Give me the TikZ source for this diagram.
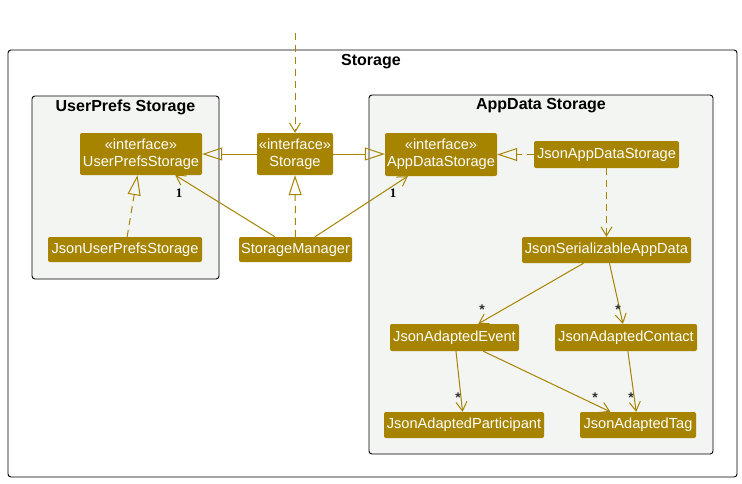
\documentclass[tikz,border=0pt]{standalone}
\usepackage{fontspec}
\setmainfont{Liberation Sans}
\newfontfamily\serfont{Liberation Serif}
\usetikzlibrary{arrows.meta}
\definecolor{gold}{RGB}{166,132,0}
\definecolor{pkgbg}{RGB}{243,245,243}
\definecolor{multgray}{RGB}{50,50,50}
\tikzset{
  cls/.style={fill=gold, text=white, rounded corners=2pt, inner sep=0pt, align=center,
    font=\fontsize{14.6}{17}\selectfont},
  pkg/.style={draw=black, line width=0.9pt, rounded corners=3pt},
  pkgtitle/.style={font=\bfseries\fontsize{16}{18}\selectfont},
  conn/.style={draw=gold, line width=1pt},
  dashconn/.style={conn, dash pattern=on 7pt off 5pt},
  realize/.style={-{Triangle[open, length=20pt, width=13pt, line width=1pt]}},
  assoc/.style={-{Straight Barb[length=9pt, width=11pt, line width=1pt]}},
  one/.style={font=\serfont\bfseries\fontsize{13}{14}\selectfont},
  many/.style={font=\bfseries\fontsize{14}{14}\selectfont, text=multgray},
}
\begin{document}
\begin{tikzpicture}[x=1pt, y=-1pt]
\useasboundingbox (0,0) rectangle (742,483);
\fill[white] (0,0) rectangle (742,483);
% packages
\draw[pkg, fill=white] (8,50) rectangle (737,477);
\node[pkgtitle] (tstorage) at (371,62) {Storage};
\draw[pkg, fill=pkgbg] (32,96) rectangle (219,279);
\node[pkgtitle] (tups) at (125.5,107) {UserPrefs Storage};
\draw[pkg, fill=pkgbg] (369,95) rectangle (713,454);
\node[pkgtitle] (tads) at (541,106) {AppData Storage};
% classes
\node[cls, minimum width=122pt, minimum height=42pt] (ups) at (141,154) {«interface»\\UserPrefsStorage};
\node[cls, minimum width=76pt, minimum height=42pt] (st) at (295,154) {«interface»\\Storage};
\node[cls, minimum width=112pt, minimum height=43pt] (ads) at (441,154.5) {«interface»\\AppDataStorage};
\node[cls, minimum width=145pt, minimum height=27pt] (jads) at (606.5,154.5) {JsonAppDataStorage};
\node[cls, minimum width=169pt, minimum height=26pt] (jsad) at (606.5,250) {JsonSerializableAppData};
\node[cls, minimum width=154pt, minimum height=25pt] (jups) at (125,249.5) {JsonUserPrefsStorage};
\node[cls, minimum width=113pt, minimum height=25pt] (sm) at (295.5,249.5) {StorageManager};
\node[cls, minimum width=129pt, minimum height=27pt] (jae) at (454.5,337.5) {JsonAdaptedEvent};
\node[cls, minimum width=142pt, minimum height=27pt] (jac) at (626,337.5) {JsonAdaptedContact};
\node[cls, minimum width=160pt, minimum height=26pt] (jap) at (464,425) {JsonAdaptedParticipant};
\node[cls, minimum width=116pt, minimum height=26pt] (jat) at (638,425) {JsonAdaptedTag};
% connectors
\coordinate (topin) at (295,33);
\draw[dashconn, assoc] (topin) -- (st.north);
\draw[conn, realize] (st.west) -- (ups.east);
\draw[conn, realize] (st.east) -- (ads.west |- st.east);
\draw[dashconn, realize] (jads.west) -- (ads.east |- jads.west);
\draw[dashconn, realize] (jups) -- (ups);
\draw[dashconn, realize] (sm.north) -- (st.south);
\draw[conn, assoc] (sm) -- (ups);
\draw[conn, assoc] (sm) -- (ads);
\draw[dashconn, assoc] (jads.south) -- (jsad.north);
\draw[conn, assoc] (jsad) -- (jae);
\draw[conn, assoc] (jsad) -- (jac);
\draw[conn, assoc] (jae) -- (jap);
\draw[conn, assoc] (jae) -- (jat);
\draw[conn, assoc] (jac) -- (jat);
% multiplicities
\node[one] (m1) at (179,193) {1};
\node[one] (m2) at (393,193) {1};
\node[many] (m3) at (482,310) {*};
\node[many] (m4) at (618,310) {*};
\node[many] (m5) at (458,398) {*};
\node[many] (m6) at (595,398) {*};
\node[many] (m7) at (631,398) {*};
\end{tikzpicture}
\end{document}
